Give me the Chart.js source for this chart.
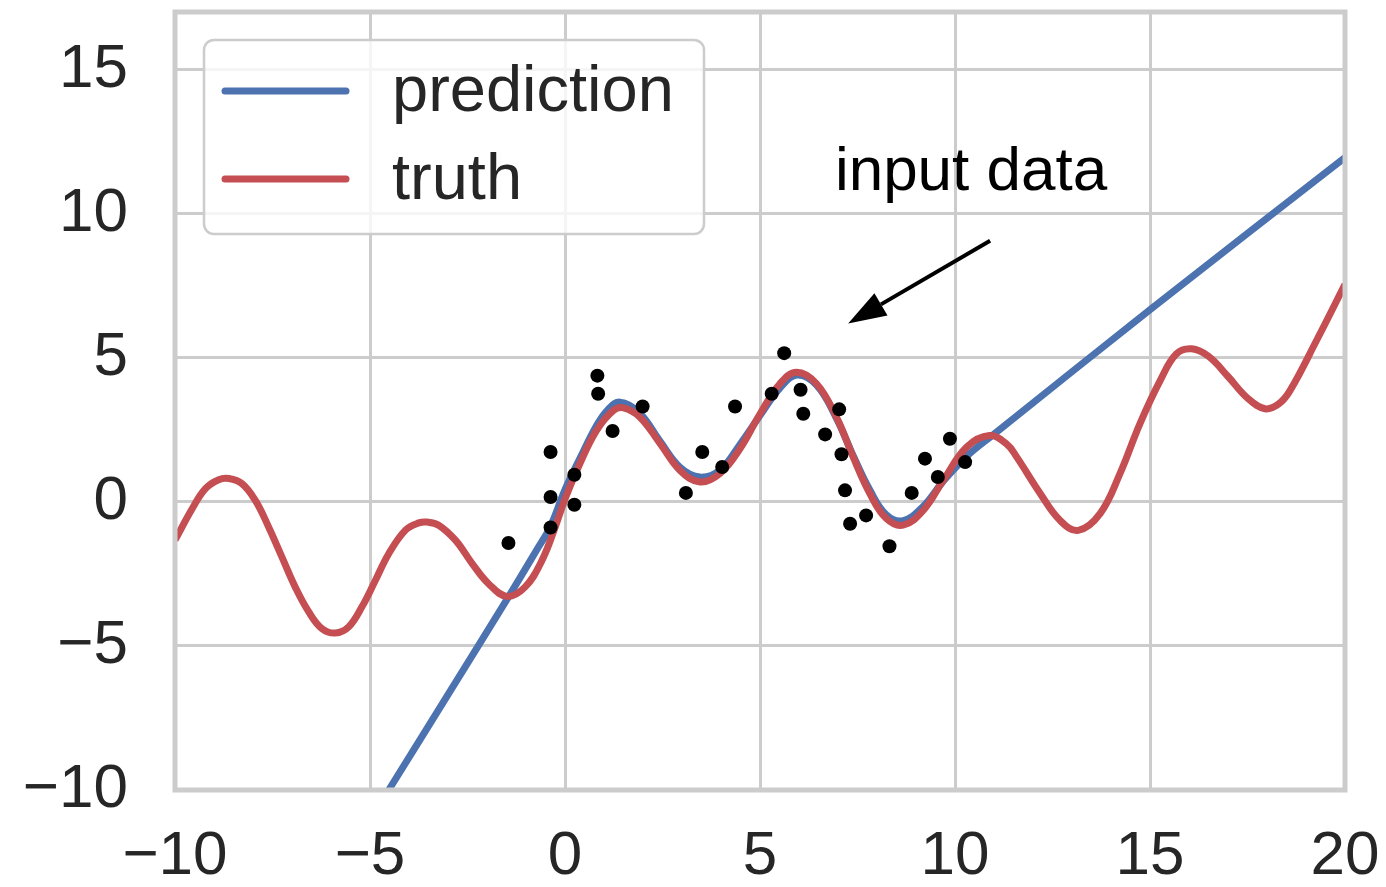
<!DOCTYPE html>
<html>
<head>
<meta charset="utf-8">
<script src="https://cdn.jsdelivr.net/npm/chart.js@4.4.1/dist/chart.umd.min.js"></script>
<style>
  html, body { margin: 0; padding: 0; background: #ffffff; }
  #wrap { width: 1386px; height: 887px; }
</style>
</head>
<body>
<div id="wrap"><canvas id="c" width="1386" height="887"></canvas></div>
<script>
// Axis ticks
const xTicks = [-10, -5, 0, 5, 10, 15, 20];
const yTicks = [-10, -5, 0, 5, 10, 15];

// Ground-truth function
const truthX = [-10.0, -9.56, -9.22, -8.88, -8.62, -8.28, -7.94, -7.60, -7.26, -6.92, -6.57, -6.23, -5.89, -5.55,
                -5.21, -4.86, -4.52, -4.09, -3.75, -3.54, -3.24, -2.81, -2.38, -1.96, -1.49, -1.02, -0.59, -0.25,
                0.0, 0.38, 0.81, 1.24, 1.50, 1.92, 2.44, 2.95, 3.46, 3.97, 4.49, 5.0, 5.51, 5.94,
                6.45, 6.96, 7.39, 7.82, 8.24, 8.67, 9.19, 9.70, 10.3, 10.88, 11.33, 11.58, 12.18, 12.69, 13.16,
                13.72, 14.23, 14.74, 15.26, 15.68, 16.07, 16.5, 17.0, 17.5, 17.95, 18.3, 18.59, 19.27, 20.0];
const truthY = [-1.33, -0.24, 0.46, 0.77, 0.81, 0.63, 0.05, -0.87, -1.91, -2.95, -3.82, -4.40, -4.55, -4.34,
                -3.65, -2.72, -1.80, -0.98, -0.73, -0.70, -0.81, -1.33, -2.14, -2.84, -3.28, -2.95, -2.03, -0.87,
                0.10, 1.32, 2.48, 3.17, 3.26, 2.94, 2.02, 1.09, 0.69, 0.98, 1.85, 3.05, 4.10, 4.50,
                4.10, 2.94, 1.55, 0.28, -0.58, -0.81, -0.29, 0.75, 1.90, 2.30, 2.00, 1.56, 0.30, -0.64, -0.99,
                -0.41, 0.98, 2.71, 4.21, 5.14, 5.31, 5.05, 4.35, 3.60, 3.23, 3.40, 3.86, 5.60, 7.55];

// Model prediction
const predX = [-4.52, -3.0, -1.5, -0.73, -0.38, 0.0, 0.38, 0.81, 1.10, 1.41, 1.90, 2.44, 2.95, 3.46, 3.97,
               4.49, 5.0, 5.51, 5.94, 6.45, 6.96, 7.39, 7.82, 8.24, 8.67, 9.19, 9.70, 10.3, 10.98, 15.08, 20.0];
const predY = [-10.0, -6.69, -3.41, -1.68, -0.87, 0.42, 1.50, 2.65, 3.20, 3.46, 3.10, 2.10, 1.20, 0.86, 1.10,
               2.00, 3.00, 3.95, 4.40, 4.05, 2.90, 1.60, 0.40, -0.45, -0.65, -0.15, 0.72, 1.58, 2.33, 6.75, 11.95];

// Observed samples
const inputX = [-1.45, -0.37, -0.37, -0.37, 0.24, 0.24, 0.83, 0.85, 1.22, 1.99, 3.10, 3.52, 4.03, 4.36,
                5.30, 5.62, 6.04, 6.11, 6.67, 7.03, 7.09, 7.18, 7.31, 7.72, 8.32, 8.89, 9.23, 9.56, 9.87, 10.26];
const inputY = [-1.43, 1.73, 0.17, -0.89, 0.94, -0.10, 4.38, 3.75, 2.46, 3.31, 0.31, 1.73, 1.21, 3.31,
                3.75, 5.16, 3.89, 3.06, 2.34, 3.21, 1.65, 0.40, -0.76, -0.47, -1.54, 0.31, 1.50, 0.86, 2.19, 1.38];

const pts = (xs, ys) => xs.map((x, i) => ({ x: x, y: ys[i] }));

const FONT = "'Liberation Sans', Arial, sans-serif";
const TEXT = '#262626';
const GRID = '#cccccc';

const fmt = v => String(v).replace('-', '\u2212');

// Plot frame on all four sides
const framePlugin = {
  id: 'frame',
  afterDatasetsDraw(chart) {
    const a = chart.chartArea, ctx = chart.ctx;
    ctx.save();
    ctx.strokeStyle = GRID;
    ctx.lineWidth = 5;
    ctx.strokeRect(a.left, a.top, a.right - a.left, a.bottom - a.top);
    ctx.restore();
  }
};

// Boxed legend in the upper-left corner of the plot
const boxLegend = {
  id: 'boxLegend',
  afterDraw(chart) {
    const ctx = chart.ctx;
    const a = chart.chartArea;
    const x0 = a.left + 29, y0 = a.top + 28, w = 500, h = 194, r = 10;
    ctx.save();
    ctx.beginPath();
    ctx.roundRect(x0, y0, w, h, r);
    ctx.fillStyle = 'rgba(255,255,255,0.8)';
    ctx.fill();
    ctx.lineWidth = 2.5;
    ctx.strokeStyle = GRID;
    ctx.stroke();
    const entries = chart.data.datasets.filter(d => d.type === 'line');
    entries.sort((p, q) => p.legendRank - q.legendRank);
    entries.forEach((d, i) => {
      const yy = y0 + 51 + i * 88;
      ctx.beginPath();
      ctx.moveTo(x0 + 21, yy);
      ctx.lineTo(x0 + 142, yy);
      ctx.strokeStyle = d.borderColor;
      ctx.lineWidth = 7;
      ctx.lineCap = 'round';
      ctx.stroke();
      ctx.fillStyle = TEXT;
      ctx.font = '65px ' + FONT;
      ctx.textBaseline = 'alphabetic';
      ctx.textAlign = 'left';
      ctx.fillText(d.label, x0 + 188, yy + 20);
    });
    ctx.restore();
  }
};

// Text label with an arrow pointing at the samples
const note = {
  text: 'input data',
  textAt: { x: 6.92, y: 10.83 },
  from: { x: 10.9, y: 9.06 },
  to: { x: 7.26, y: 6.19 }
};
const arrowNote = {
  id: 'arrowNote',
  afterDraw(chart) {
    const ctx = chart.ctx, xs = chart.scales.x, ys = chart.scales.y;
    const tx = xs.getPixelForValue(note.textAt.x), ty = ys.getPixelForValue(note.textAt.y);
    const fx = xs.getPixelForValue(note.from.x), fy = ys.getPixelForValue(note.from.y);
    const px = xs.getPixelForValue(note.to.x), py = ys.getPixelForValue(note.to.y);
    ctx.save();
    ctx.fillStyle = '#000000';
    ctx.font = '62px ' + FONT;
    ctx.textBaseline = 'alphabetic';
    ctx.textAlign = 'left';
    ctx.fillText(note.text, tx, ty);
    const ang = Math.atan2(py - fy, px - fx);
    const headLen = 38, headHalf = 13;
    const bx = px - headLen * Math.cos(ang), by = py - headLen * Math.sin(ang);
    ctx.beginPath();
    ctx.moveTo(fx, fy);
    ctx.lineTo(bx, by);
    ctx.strokeStyle = '#000000';
    ctx.lineWidth = 4;
    ctx.stroke();
    ctx.beginPath();
    ctx.moveTo(px, py);
    ctx.lineTo(bx + headHalf * Math.sin(ang), by - headHalf * Math.cos(ang));
    ctx.lineTo(bx - headHalf * Math.sin(ang), by + headHalf * Math.cos(ang));
    ctx.closePath();
    ctx.fill();
    ctx.restore();
  }
};

new Chart(document.getElementById('c'), {
  data: {
    datasets: [
      {
        type: 'scatter', label: 'input', data: pts(inputX, inputY), order: 0,
        pointRadius: 7, pointHoverRadius: 7, backgroundColor: '#000000', borderWidth: 0, showLine: false
      },
      {
        type: 'line', label: 'truth', legendRank: 1, data: pts(truthX, truthY), order: 1,
        borderColor: '#C44E52', borderWidth: 7, pointRadius: 0, fill: false,
        tension: 0.4, clip: 0, borderCapStyle: 'butt', borderJoinStyle: 'round'
      },
      {
        type: 'line', label: 'prediction', legendRank: 0, data: pts(predX, predY), order: 2,
        borderColor: '#4C72B0', borderWidth: 7, pointRadius: 0, fill: false,
        tension: 0.4, clip: 0, borderCapStyle: 'butt', borderJoinStyle: 'round'
      }
    ]
  },
  options: {
    responsive: false,
    animation: false,
    events: [],
    layout: { padding: { left: 0, top: 12, right: 41, bottom: 0 } },
    plugins: { legend: { display: false }, tooltip: { enabled: false } },
    scales: {
      x: {
        type: 'linear', min: -10, max: 20,
        afterBuildTicks: s => { s.ticks = xTicks.map(v => ({ value: v })); },
        afterFit: s => { s.height = 97; s.paddingLeft = 0; s.paddingRight = 0; },
        grid: { color: GRID, lineWidth: 3, drawTicks: false },
        border: { display: false },
        ticks: { padding: 30, color: TEXT, font: { family: FONT, size: 62 }, callback: fmt, maxRotation: 0 }
      },
      y: {
        type: 'linear', min: -10, max: 17,
        afterBuildTicks: s => { s.ticks = yTicks.map(v => ({ value: v })); },
        afterFit: s => { s.width = 175; s.paddingTop = 0; s.paddingBottom = 0; },
        grid: { color: GRID, lineWidth: 3, drawTicks: false },
        border: { display: false },
        ticks: { padding: 47, color: TEXT, font: { family: FONT, size: 62 }, callback: fmt }
      }
    }
  },
  plugins: [framePlugin, boxLegend, arrowNote]
});
</script>
</body>
</html>
